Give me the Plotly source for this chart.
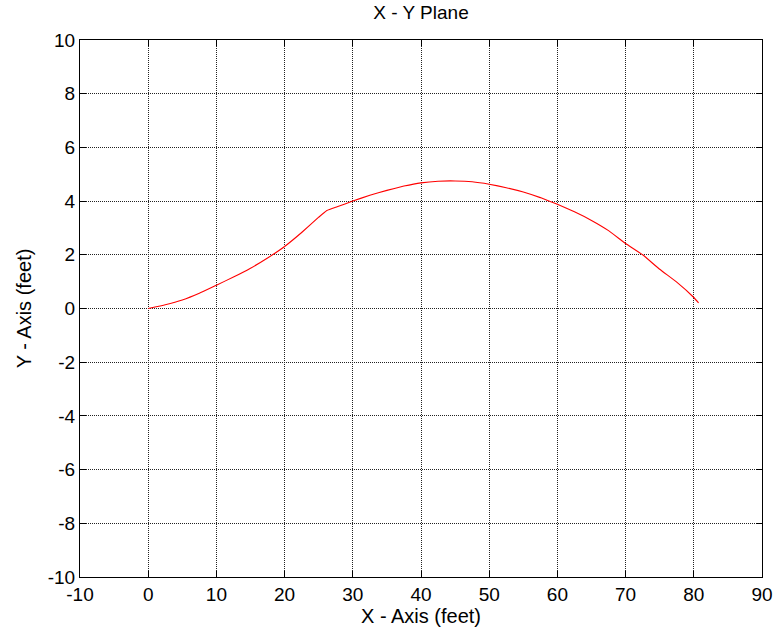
import plotly.graph_objects as go

x_vals = [0, 2.5, 5, 7.5, 10, 12.5, 15, 17.5, 20, 22.5, 25, 26.2, 27.7, 30, 32.5, 35, 37.5, 40, 42.5, 45, 47.5, 50, 52.5, 55, 57.5, 60, 62.5, 65, 67.5, 70, 72.5, 75, 77.5, 80, 80.7]
y_vals = [0, 0.14, 0.32, 0.57, 0.87, 1.17, 1.5, 1.88, 2.31, 2.83, 3.4, 3.65, 3.79, 4.0, 4.22, 4.4, 4.56, 4.68, 4.74, 4.75, 4.72, 4.63, 4.5, 4.34, 4.13, 3.88, 3.6, 3.28, 2.9, 2.42, 2.0, 1.46, 0.98, 0.41, 0.21]

x_ticks = list(range(-10, 91, 10))
y_ticks = list(range(-10, 11, 2))
x_ticktext = [str(v) for v in x_ticks]
y_ticktext = [str(v) for v in y_ticks]

FONT = "Liberation Sans, Arial"

fig = go.Figure(go.Scatter(x=x_vals, y=y_vals, mode="lines",
                           line=dict(color="#ff0000", width=1.1, shape="spline", smoothing=0.3)))

axis_common = dict(showline=True, linecolor="black", linewidth=1, mirror="ticks",
                   ticks="inside", ticklen=6, tickcolor="black", automargin=False,
                   showgrid=True, gridcolor="#222222", gridwidth=1, griddash="1px,1px",
                   zeroline=False, tickfont=dict(family=FONT, size=19, color="black"))

fig.update_xaxes(range=[-10, 90], tickvals=x_ticks, ticktext=x_ticktext, **axis_common,
                 title=dict(text="X - Axis (feet)", font=dict(family=FONT, size=20, color="black"), standoff=4))
fig.update_yaxes(range=[-10, 10], tickvals=y_ticks, ticktext=y_ticktext, **axis_common,
                 title=dict(text="Y - Axis (feet)", font=dict(family=FONT, size=20, color="black"), standoff=10))

fig.update_layout(
    width=776, height=632,
    margin=dict(l=80, r=14, t=40, b=55),
    paper_bgcolor="white", plot_bgcolor="white",
    showlegend=False,
    title=dict(text="X - Y Plane", x=0.5, xref="paper", xanchor="center", y=1, yref="container", yanchor="top", pad=dict(t=6),
               font=dict(family=FONT, size=19, color="black")),
)

fig.write_html("out.html", config={"displayModeBar": False},
               post_script="document.body.style.margin='0';")
